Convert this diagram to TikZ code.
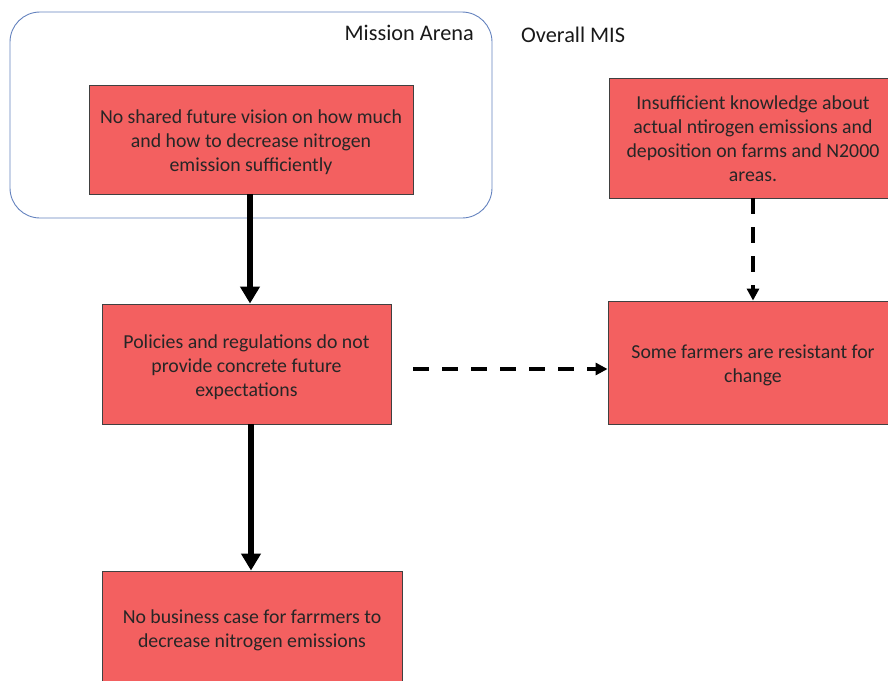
\documentclass[tikz,border=0pt]{standalone}
\usepackage{fontspec}
\setmainfont{Carlito}
\usetikzlibrary{arrows.meta}
\definecolor{boxred}{RGB}{243,96,96}
\definecolor{boxedge}{RGB}{64,64,64}
\definecolor{arenablue}{RGB}{100,130,190}
\begin{document}
\begin{tikzpicture}[x=1pt,y=-1pt,
  cause/.style={draw=boxedge,line width=0.9pt,fill=boxred,inner sep=0pt},
  ctext/.style={align=center,inner sep=0pt,font=\fontsize{19.8}{24}\selectfont,text=black!85},
  solidarrow/.style={line width=5.5pt,-{Triangle[width=19pt,length=17pt]}},
  dasharrow/.style={line width=4pt,dash pattern=on 16pt off 13pt,
    -{Triangle[width=12pt,length=12pt]}},
  lbl/.style={font=\fontsize{22.3}{24}\selectfont,text=black!90,inner sep=0pt}]
\useasboundingbox (0,0) rectangle (888,680);
\draw[arenablue,line width=0.9pt,rounded corners=30pt] (10,12) rectangle (492,218);
\node[lbl,anchor=east] (arena) at (474,33) {Mission Arena};
\node[lbl,anchor=west] (mis) at (521,35) {Overall MIS};
\node[cause,minimum width=324pt,minimum height=109pt] (b1) at (251,139.5) {};
\node[ctext] (t1) at ([yshift=-3pt]b1.center)
  {No shared future vision on how much\\and how to decrease nitrogen\\emission sufficiently};
\node[cause,minimum width=288pt,minimum height=120pt] (b2) at (753,138) {};
\node[ctext] (t2) at ([yshift=-1pt]b2.center)
  {Insufficient knowledge about\\actual ntirogen emissions and\\deposition on farms and N2000\\areas.};
\node[cause,minimum width=289pt,minimum height=120pt] (b3) at (246.5,364) {};
\node[ctext] (t3) at ([yshift=-3pt]b3.center)
  {Policies and regulations do not\\provide concrete future\\expectations};
\node[cause,minimum width=290pt,minimum height=123pt] (b4) at (753,362.5) {};
\node[ctext] (t4) at ([yshift=-3pt]b4.center)
  {Some farmers are resistant for\\change};
\node[cause,minimum width=300pt,minimum height=112pt] (b5) at (252,627) {};
\node[ctext] (t5) at ([yshift=-3pt]b5.center)
  {No business case for farrmers to\\decrease nitrogen emissions};
\coordinate (h1) at (413,369);
\draw[solidarrow] (b1.south -| 250,0) -- (b3.north -| 250,0);
\draw[solidarrow] (b3.south -| 251,0) -- (b5.north -| 251,0);
\draw[dasharrow] (b2.south) -- (b4.north);
\draw[dasharrow] (h1) -- (h1 -| b4.west);
\end{tikzpicture}
\end{document}
